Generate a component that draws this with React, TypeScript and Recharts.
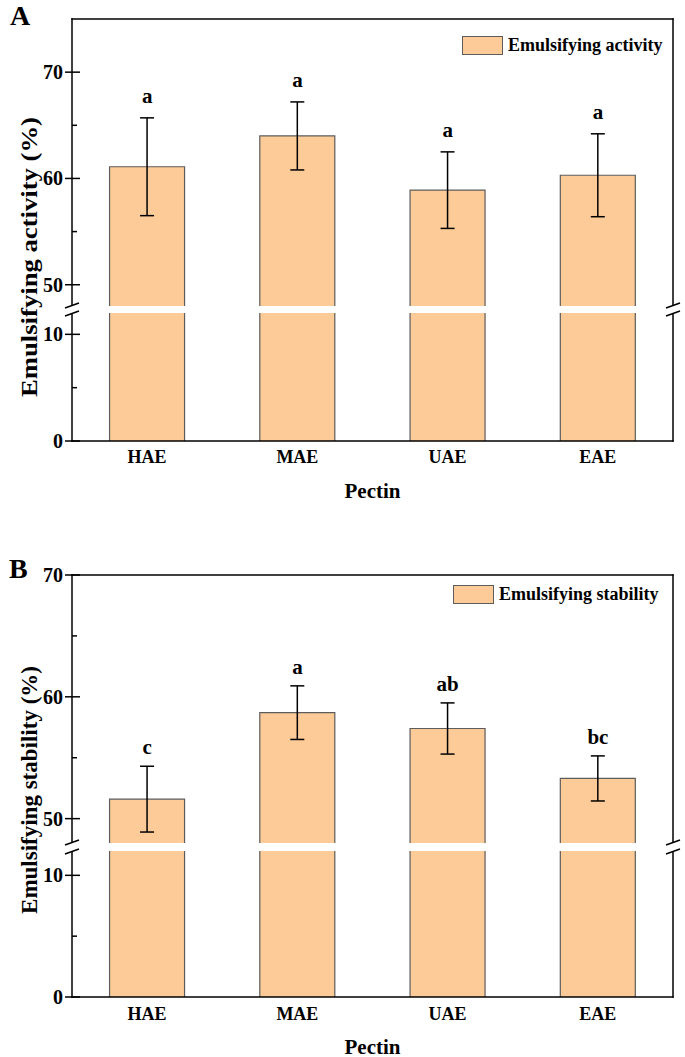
import React from 'react';
import {
  ComposedChart,
  Bar,
  Line,
  XAxis,
  YAxis,
  ErrorBar,
  LabelList,
  Legend,
  Label,
} from 'recharts';

// ---------- data ----------
const categories = ['HAE', 'MAE', 'UAE', 'EAE'];

const activityMean = [61.1, 64.0, 58.9, 60.3];
const activitySd = [4.6, 3.2, 3.6, 3.9];
const activityLetters = ['a', 'a', 'a', 'a'];

const stabilityMean = [51.6, 58.7, 57.4, 53.3];
const stabilitySd = [2.7, 2.2, 2.1, 1.85];
const stabilityLetters = ['c', 'a', 'ab', 'bc'];

const upperTicksA = [50, 55, 60, 65, 70];
const upperTicksB = [50, 55, 60, 65, 70];
const lowerTicks = [0, 5, 10];
const majorTickValues = [0, 10, 50, 60, 70];

const upperDomainA: [number, number] = [48, 75];
const upperDomainB: [number, number] = [48, 70];
const lowerDomain: [number, number] = [0, 12];

// ---------- styles ----------
const FONT = '"Times New Roman", "Liberation Serif", serif';
const FILL = '#FDCB97';
const EDGE = '#5c5c5c';
const AXIS = { stroke: '#000', strokeWidth: 1.5, strokeLinecap: 'square' as const };

const makeData = (means: number[], sds: number[], letters: string[]) =>
  categories.map((name, i) => ({
    name,
    mean: means[i],
    sd: sds[i],
    top: means[i] + sds[i],
    letter: letters[i],
  }));

const BarShape = (p: any) => {
  const { x, y, width, height } = p;
  if (width == null || height == null) return null;
  return (
    <g>
      <rect x={x} y={y} width={width} height={height} fill={FILL} />
      <path
        d={`M${x},${y + height} L${x},${y} L${x + width},${y} L${x + width},${y + height}`}
        fill="none"
        stroke={EDGE}
        strokeWidth={1.2}
      />
    </g>
  );
};

const YTick = (props: any) => {
  const { x, y, payload } = props;
  const v = payload.value;
  const major = majorTickValues.includes(v);
  return (
    <g>
      {major ? (
        <line x1={x - 7} x2={x + 8} y1={y} y2={y} stroke="#000" strokeWidth={1.5} />
      ) : (
        <line x1={x} x2={x + 5} y1={y} y2={y} stroke="#000" strokeWidth={1.5} />
      )}
      {major && (
        <text
          x={x - 9}
          y={y}
          dy="0.35em"
          textAnchor="end"
          fontSize={20}
          fontWeight="bold"
          fontFamily={FONT}
          fill="#000"
        >
          {v}
        </text>
      )}
    </g>
  );
};

type PanelProps = {
  means: number[];
  sds: number[];
  letters: string[];
  frameTop: number;
  upperBottom: number;
  lowerTop: number;
  axisBottom: number;
  upperDomain: [number, number];
  upperTicks: number[];
  legendLabel: string;
  legendTop: number;
  legendLeft: number;
  letterOffset: number;
  tickMargin: number;
  titleBaseline: number;
};

const Panel = (p: PanelProps) => {
  const data = makeData(p.means, p.sds, p.letters);
  const upperTop = p.frameTop - 19;
  const upperH = p.upperBottom - upperTop;
  const lowerPlotH = p.axisBottom - p.lowerTop;
  const lowerH = lowerPlotH + 70;
  const margin = { top: 0, right: 0, bottom: 0, left: 0 };

  return (
    <>
      <div style={{ position: 'absolute', left: 0, top: upperTop }}>
        <ComposedChart width={685} height={upperH} data={data} margin={margin} barCategoryGap="25%">
          <XAxis dataKey="name" orientation="top" height={19} tick={false} tickLine={false} axisLine={AXIS} />
          <YAxis
            yAxisId="left"
            type="number"
            width={72}
            domain={p.upperDomain}
            ticks={p.upperTicks}
            interval={0}
            allowDataOverflow
            tick={<YTick />}
            tickLine={false}
            tickSize={0}
            tickMargin={0}
            axisLine={AXIS}
          />
          <YAxis
            yAxisId="right"
            orientation="right"
            type="number"
            width={12}
            domain={p.upperDomain}
            allowDataOverflow
            tick={false}
            tickLine={false}
            axisLine={AXIS}
          />
          <Legend
            layout="vertical"
            align="center"
            verticalAlign="middle"
            wrapperStyle={{ top: p.legendTop - upperTop, left: p.legendLeft, right: 'auto', bottom: 'auto', width: 'auto' }}
            content={() => (
              <div
                style={{
                  display: 'flex',
                  alignItems: 'center',
                  fontFamily: FONT,
                  fontWeight: 'bold',
                  fontSize: 18,
                  lineHeight: '19px',
                  color: '#000',
                  whiteSpace: 'nowrap',
                }}
              >
                <span
                  style={{
                    display: 'inline-block',
                    width: 41,
                    height: 19,
                    boxSizing: 'border-box',
                    background: FILL,
                    border: `1.2px solid ${EDGE}`,
                    marginRight: 5,
                  }}
                />
                {p.legendLabel}
              </div>
            )}
          />
          <Bar yAxisId="left" dataKey="mean" shape={BarShape} isAnimationActive={false}>
            <ErrorBar dataKey="sd" width={7} stroke="#000" strokeWidth={1.5} direction="y" />
          </Bar>
          <Line
            yAxisId="left"
            dataKey="top"
            stroke="none"
            dot={false}
            activeDot={false}
            isAnimationActive={false}
            legendType="none"
          >
            <LabelList
              dataKey="letter"
              position="top"
              offset={p.letterOffset}
              fill="#000"
              fontSize={21}
              fontWeight="bold"
              fontFamily={FONT}
            />
          </Line>
        </ComposedChart>
      </div>
      <div style={{ position: 'absolute', left: 0, top: p.lowerTop }}>
        <ComposedChart width={685} height={lowerH} data={data} margin={margin} barCategoryGap="25%">
          <XAxis
            dataKey="name"
            height={lowerH - lowerPlotH}
            interval={0}
            tickLine={false}
            tickSize={0}
            tickMargin={p.tickMargin}
            axisLine={AXIS}
            tick={{ fill: '#000', fontSize: 18, fontWeight: 'bold', fontFamily: FONT }}
          >
            <Label
              value="Pectin"
              position="insideBottom"
              offset={lowerH - (p.titleBaseline - p.lowerTop)}
              fill="#000"
              fontSize={21}
              fontWeight="bold"
              fontFamily={FONT}
            />
          </XAxis>
          <YAxis
            yAxisId="left"
            type="number"
            width={72}
            domain={lowerDomain}
            ticks={lowerTicks}
            interval={0}
            allowDataOverflow
            tick={<YTick />}
            tickLine={false}
            tickSize={0}
            tickMargin={0}
            axisLine={AXIS}
          />
          <YAxis
            yAxisId="right"
            orientation="right"
            type="number"
            width={12}
            domain={lowerDomain}
            allowDataOverflow
            tick={false}
            tickLine={false}
            axisLine={AXIS}
          />
          <Bar yAxisId="left" dataKey="mean" shape={BarShape} isAnimationActive={false} />
        </ComposedChart>
      </div>
    </>
  );
};

const BreakMarks = ({ gapTop, gapBottom }: { gapTop: number; gapBottom: number }) => (
  <>
    {[72, 673].map((x) => (
      <g key={x}>
        <line x1={x - 7} y1={gapTop + 2} x2={x + 7} y2={gapTop - 3} stroke="#000" strokeWidth={1.5} />
        <line x1={x - 7} y1={gapBottom + 3} x2={x + 7} y2={gapBottom - 2} stroke="#000" strokeWidth={1.5} />
      </g>
    ))}
  </>
);

export default function App() {
  return (
    <div style={{ position: 'absolute', left: 0, top: 0, width: 685, height: 1057, background: '#fff' }}>
      <Panel
        means={activityMean}
        sds={activitySd}
        letters={activityLetters}
        frameTop={19}
        upperBottom={306}
        lowerTop={313}
        axisBottom={441}
        upperDomain={upperDomainA}
        upperTicks={upperTicksA}
        legendLabel="Emulsifying activity"
        legendTop={36}
        legendLeft={462}
        letterOffset={15}
        tickMargin={9}
        titleBaseline={498}
      />
      <Panel
        means={stabilityMean}
        sds={stabilitySd}
        letters={stabilityLetters}
        frameTop={575}
        upperBottom={843}
        lowerTop={851}
        axisBottom={997}
        upperDomain={upperDomainB}
        upperTicks={upperTicksB}
        legendLabel="Emulsifying stability"
        legendTop={585}
        legendLeft={453}
        letterOffset={12}
        tickMargin={10}
        titleBaseline={1054}
      />
      <svg
        width={685}
        height={1057}
        style={{ position: 'absolute', left: 0, top: 0, pointerEvents: 'none' }}
      >
        <text x={10} y={25} fontSize={28} fontWeight="bold" fontFamily={FONT} fill="#000">A</text>
        <text x={9} y={578} fontSize={28} fontWeight="bold" fontFamily={FONT} fill="#000">B</text>
        <text
          transform="translate(37,257) rotate(-90)"
          textAnchor="middle"
          fontSize={24}
          fontWeight="bold"
          fontFamily={FONT}
          fill="#000"
          textLength={280}
          lengthAdjust="spacingAndGlyphs"
        >
          Emulsifying activity (%)
        </text>
        <text
          transform="translate(37,790) rotate(-90)"
          textAnchor="middle"
          fontSize={23}
          fontWeight="bold"
          fontFamily={FONT}
          fill="#000"
        >
          Emulsifying stability (%)
        </text>
        <BreakMarks gapTop={306} gapBottom={313} />
        <BreakMarks gapTop={843} gapBottom={851} />
      </svg>
    </div>
  );
}
